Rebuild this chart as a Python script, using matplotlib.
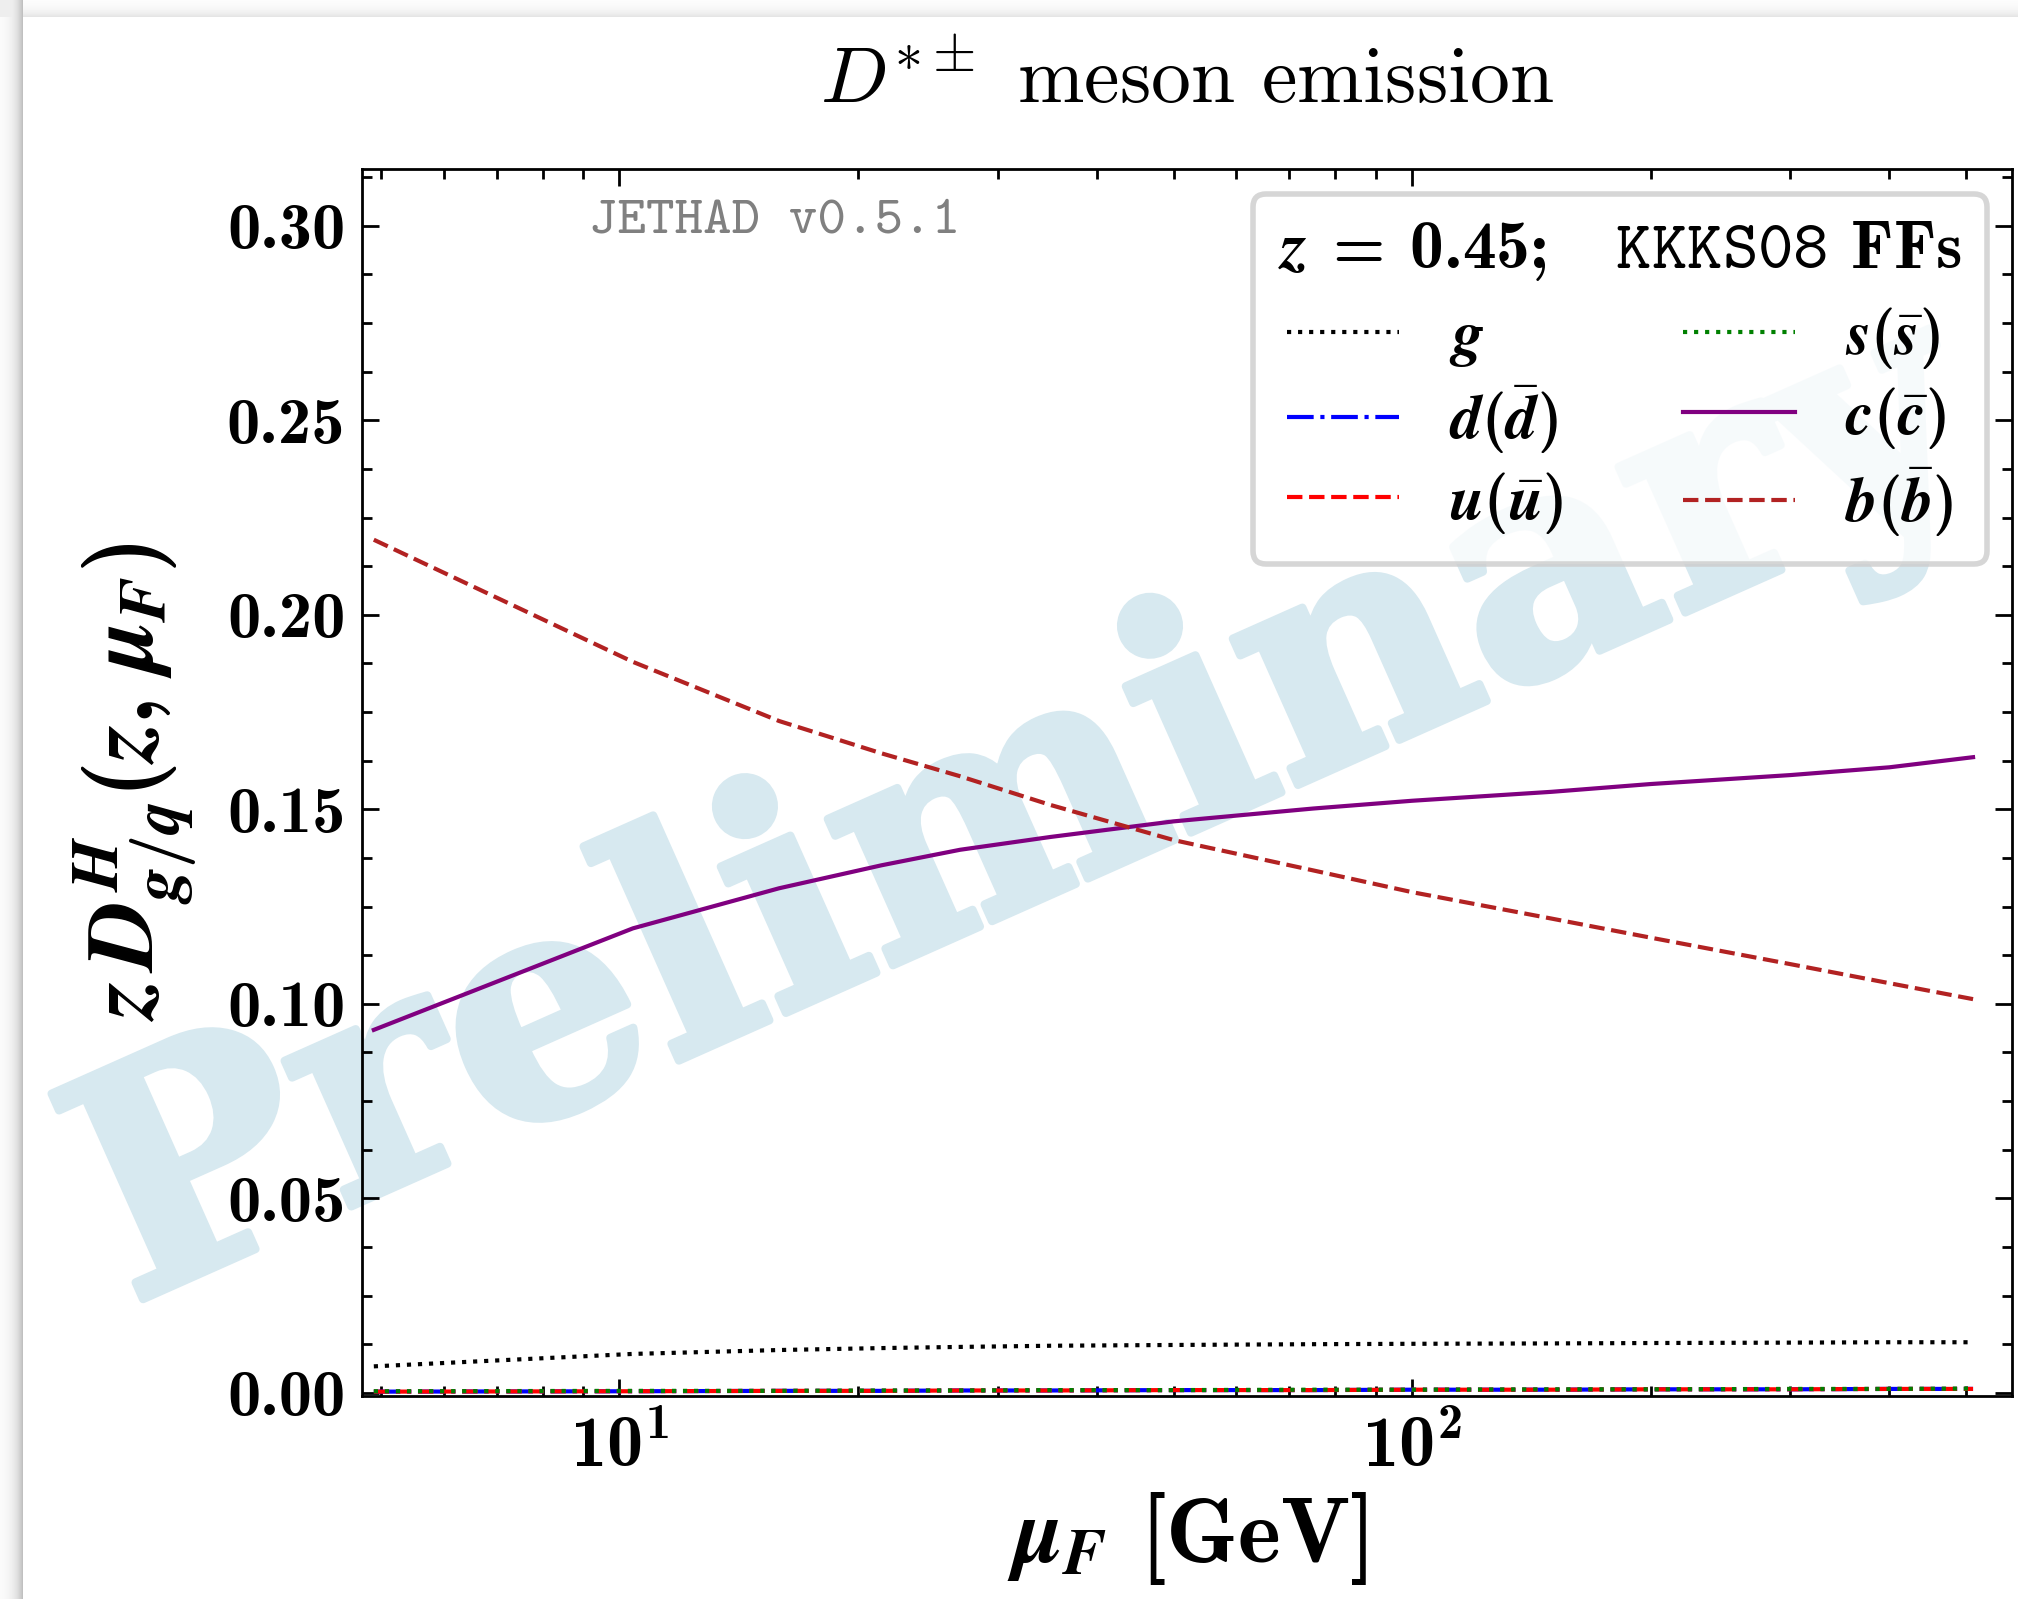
import numpy as np
import matplotlib
matplotlib.use("Agg")
import matplotlib.pyplot as plt
import matplotlib.patheffects as pe
from matplotlib.ticker import MultipleLocator, LogLocator, NullFormatter

# valori
mu_F = [4.9, 10.4, 15.9, 21.4, 26.9, 35, 50, 75, 100, 150, 200, 300, 400, 510]
D_g = [0.0068, 0.0100, 0.0110, 0.0115, 0.0118, 0.0121, 0.0123, 0.0125,
       0.0126, 0.0127, 0.0128, 0.0129, 0.0130, 0.0130]
D_d = [0.0003, 0.0004, 0.0005, 0.0005, 0.0006, 0.0006, 0.0007, 0.0007,
       0.0008, 0.0008, 0.0009, 0.0009, 0.0010, 0.0010]
D_u = [0.0003, 0.0004, 0.0005, 0.0005, 0.0006, 0.0006, 0.0007, 0.0007,
       0.0008, 0.0008, 0.0009, 0.0009, 0.0010, 0.0010]
D_s = [0.0004, 0.0005, 0.0005, 0.0006, 0.0006, 0.0007, 0.0007, 0.0008,
       0.0008, 0.0009, 0.0009, 0.0010, 0.0010, 0.0011]
D_c = [0.0933, 0.1194, 0.1297, 0.1356, 0.1396, 0.1429, 0.1469, 0.1502,
       0.1522, 0.1545, 0.1565, 0.1588, 0.1608, 0.1634]
D_b = [0.2193, 0.1879, 0.1727, 0.1644, 0.1585, 0.1511, 0.1421, 0.1343,
       0.1287, 0.1219, 0.1170, 0.1102, 0.1053, 0.1012]

labels = [r'$g$', r'$d(\bar{d})$', r'$u(\bar{u})$',
          r'$s(\bar{s})$', r'$c(\bar{c})$', r'$b(\bar{b})$']
colors = ['black', 'blue', 'red', 'green', 'purple', 'firebrick']
styles = [':', '-.', '--', ':', '-', '--']

plt.rcParams.update({
    'font.family': 'cmb10',
    'mathtext.fontset': 'custom',
    'mathtext.rm': 'cmb10',
    'mathtext.bf': 'cmb10',
    'mathtext.it': 'STIXGeneral:italic:bold',
    'mathtext.tt': 'cmtt10',
    'mathtext.sf': 'cmss10',
    'axes.formatter.use_mathtext': True,
    'axes.unicode_minus': False,
})

W, H = 2018, 1599
fig = plt.figure(figsize=(W / 200, H / 200), dpi=200)

# ombra del "foglio" in alto e a sinistra
bg = fig.add_axes([0, 0, 1, 1], zorder=-10)
bg.axis('off')
cols = np.arange(W)[None, :]
rows = np.arange(H)[:, None]
dx = np.clip(23 - cols, 0, None)
dy = np.clip(17 - rows, 0, None)
shade = np.ones((H, W))
shade = np.where(dx > 0, 1 - 0.28 * np.exp(-dx / 8.0), shade)
shade = np.where((dy > 0) & (dx == 0), 1 - 0.12 * np.exp(-dy / 7.0), shade)
shade = np.where((dy > 0) & (dx > 0), np.minimum(shade, 0.93), shade)
bg.imshow(shade, cmap='gray', vmin=0, vmax=1, aspect='auto',
          extent=[0, 1, 0, 1], interpolation='nearest')

ax = fig.add_axes([0.1794, 0.127, 0.8176, 0.7673])

series = [D_g, D_d, D_u, D_s, D_c, D_b]
for vals, lab, col, ls in zip(series, labels, colors, styles):
    ax.plot(mu_F, vals, ls=ls, color=col, lw=1.5, label=lab)

ax.set_xscale('log')
ax.set_xlim(4.735, 571)
ax.set_ylim(-0.0008, 0.3146)

ax.yaxis.set_major_locator(MultipleLocator(0.05))
ax.yaxis.set_minor_locator(MultipleLocator(0.0125))
ax.yaxis.set_major_formatter(plt.FormatStrFormatter('%.2f'))
ax.xaxis.set_major_locator(LogLocator(base=10))
ax.xaxis.set_minor_locator(LogLocator(base=10, subs=np.arange(2, 10)))
ax.xaxis.set_minor_formatter(NullFormatter())

ax.tick_params(which='both', direction='in', top=True, right=True,
               width=1.0, pad=6)
ax.tick_params(axis='y', labelsize=24)
ax.tick_params(axis='x', labelsize=26, pad=7)
ax.tick_params(which='major', length=6)
ax.tick_params(which='minor', length=3.5)
for sp in ax.spines.values():
    sp.set_linewidth(1.0)

ax.set_xlabel(r'$\mu_F$ [GeV]', fontsize=33, labelpad=3)
ax.set_ylabel(r'$z\,D^{H}_{g/q}(z,\,\mu_F)$', fontsize=34, labelpad=10)
ax.set_title(r'$D^{*\pm}$ meson emission', fontsize=28.7, pad=24,
             fontfamily='cmr10', math_fontfamily='cm')

ax.text(0.1376, 0.957, 'JETHAD v0.5.1', transform=ax.transAxes,
        fontfamily='cmtt10', fontsize=19.6, color='gray',
        ha='left', va='center')

# scritta "Preliminary"
wm_col = (0.843, 0.914, 0.941)
ax.text(0.508, 0.490, 'Preliminary', transform=fig.transFigure,
        fontfamily='DejaVu Serif', fontweight='bold', fontsize=111,
        color=wm_col, rotation=24, ha='center', va='center',
        zorder=1, clip_on=False,
        path_effects=[pe.withStroke(linewidth=3, foreground=wm_col)])

leg = ax.legend(ncol=2, loc='upper right',
                title=r'$z\;=\;0.45$;   $\mathtt{KKKS08}$ FFs',
                fontsize=22.5, title_fontsize=24.3, handlelength=1.8,
                handletextpad=0.8, columnspacing=1.9, labelspacing=0.22,
                borderpad=0.4, fancybox=True, framealpha=0.8,
                edgecolor='#cccccc', borderaxespad=0.4)
leg.get_frame().set_linewidth(2)
leg._legend_box.sep = 8

fig.savefig('out.png', dpi=200)
